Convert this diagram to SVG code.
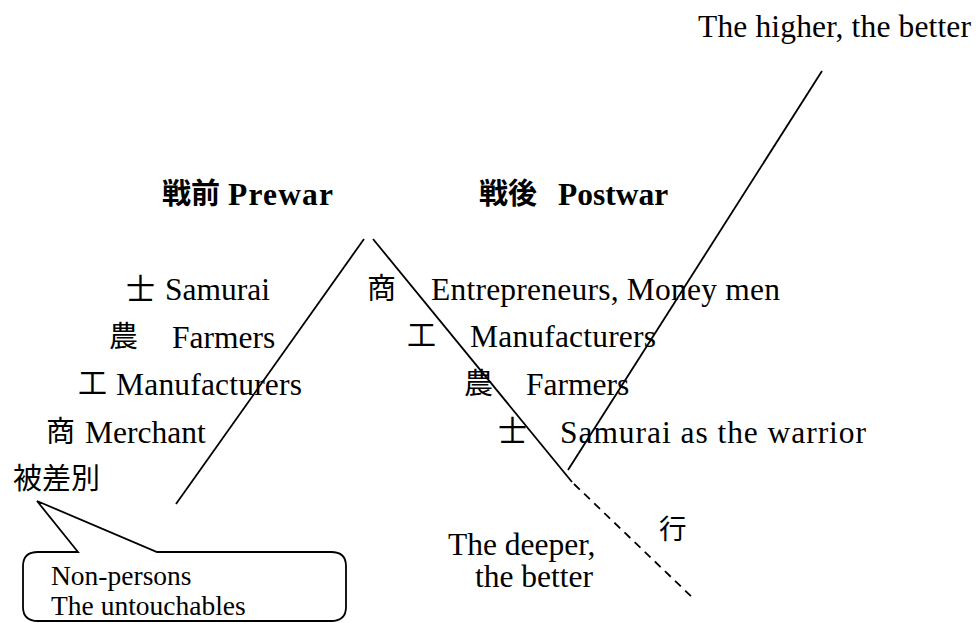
<svg xmlns="http://www.w3.org/2000/svg" width="977" height="623" viewBox="0 0 977 623">
<style>
.en{font-family:"Liberation Serif","Times New Roman",serif;font-size:31.5px;fill:#000}
.b{font-weight:bold}
.cj{font-family:"Noto Sans CJK JP","Noto Sans CJK SC",sans-serif;font-size:29px;fill:#000}
.sm{font-size:27.5px}
.ln{stroke:#000;stroke-width:1.8;fill:none}
.dash{stroke-dasharray:8 6}
</style>
<rect width="977" height="623" fill="#fff"/>
<g id="connectors">
<line class="ln" x1="176" y1="504" x2="364" y2="239"/>
<line class="ln" x1="373" y1="239" x2="572" y2="482"/>
<line class="ln dash" x1="574" y1="484" x2="695" y2="600"/>
<line class="ln" x1="568" y1="470" x2="822" y2="71"/>
</g>
<g id="higher"><text class="en" x="698" y="37" textLength="273">The higher, the better</text></g>
<g id="prewar-title"><text class="cj b" x="162" y="204">戦前</text><text class="en b" x="228" y="205" textLength="105">Prewar</text></g>
<g id="postwar-title"><text class="cj b" x="479" y="204">戦後</text><text class="en b" x="558" y="205">Postwar</text></g>
<g id="pre-samurai"><text class="cj" x="126" y="300">士</text><text class="en" x="165" y="300">Samurai</text></g>
<g id="pre-farmers"><text class="cj" x="109" y="347">農</text><text class="en" x="172" y="348">Farmers</text></g>
<g id="pre-manuf"><text class="cj" x="78" y="394">工</text><text class="en" x="116" y="395" textLength="186">Manufacturers</text></g>
<g id="pre-merchant"><text class="cj" x="46" y="442">商</text><text class="en" x="85" y="443">Merchant</text></g>
<g id="outcast"><text class="cj" x="13" y="489">被差別</text></g>
<g id="post-ent"><text class="cj" x="367" y="299">商</text><text class="en" x="431" y="300" textLength="349">Entrepreneurs, Money men</text></g>
<g id="post-manuf"><text class="cj" x="407" y="346">工</text><text class="en" x="470" y="347" textLength="186">Manufacturers</text></g>
<g id="post-farmers"><text class="cj" x="464" y="394">農</text><text class="en" x="526" y="395">Farmers</text></g>
<g id="post-samurai"><text class="cj" x="498" y="442">士</text><text class="en" x="560" y="443" textLength="306">Samurai as the warrior</text></g>
<g id="gyo"><text class="cj sm" x="659" y="539">行</text></g>
<g id="deeper"><text class="en" x="448" y="555">The deeper,</text><text class="en" x="475" y="587">the better</text></g>
<g id="callout">
<path class="ln" d="M78,552 L38,552 Q23,552 23,566 L23,607 Q23,621 38,621 L331,621 Q346,621 346,607 L346,566 Q346,552 331,552 L157,552 L37,501 Z" fill="#fff"/>
<text class="en sm" x="51" y="585">Non-persons</text>
<text class="en sm" x="51" y="615">The untouchables</text>
</g>
</svg>
